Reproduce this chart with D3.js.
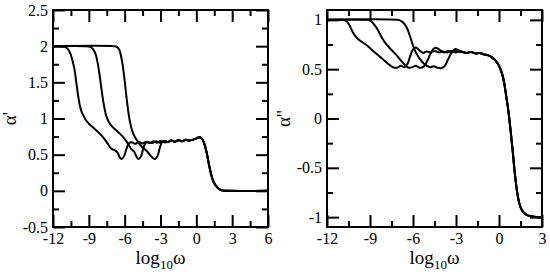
<!DOCTYPE html>
<html>
<head>
<meta charset="utf-8">
<script src="https://cdn.jsdelivr.net/npm/d3@7"></script>
<style>
  @font-face {
    font-family: "ChartSerif";
    src: local("Liberation Serif"), local("LiberationSerif"), local("LiberationSerif-Regular"), local("Times New Roman");
  }
  body { margin: 0; font-family: "Liberation Serif", "ChartSerif", "Times New Roman"; }
  svg text, svg tspan { font-family: "Liberation Serif", "ChartSerif", "Times New Roman" !important; }
</style>
</head>
<body>
<script>
"use strict";

/*** Data: [log10 omega, alpha] */
/** Left panel: alpha' */
const realA = [[-12,2],[-11.3,2],[-11.0,1.99],[-10.75,1.96],[-10.55,1.9],[-10.4,1.82],[-10.2,1.68],[-10.05,1.5],[-9.9,1.32],[-9.75,1.18],[-9.6,1.09],[-9.45,1.04],[-9.25,0.98],[-8.95,0.92],[-8.6,0.87],[-8.2,0.81],[-7.8,0.74],[-7.45,0.66],[-7.1,0.58],[-6.8,0.56],[-6.6,0.53],[-6.4,0.46],[-6.25,0.44],[-6.05,0.48],[-5.85,0.58],[-5.65,0.655],[-5.4,0.67],[-5.1,0.65],[-4.8,0.675],[-4.5,0.655],[-4.2,0.68],[-3.9,0.66],[-3.6,0.685],[-3.3,0.665],[-3.0,0.69],[-2.7,0.67]];
const realB = [[-12,2],[-9.2,2],[-8.9,1.99],[-8.65,1.96],[-8.45,1.9],[-8.3,1.8],[-8.15,1.66],[-8.0,1.48],[-7.85,1.3],[-7.7,1.15],[-7.55,1.04],[-7.35,0.96],[-7.0,0.88],[-6.6,0.82],[-6.1,0.74],[-5.75,0.66],[-5.45,0.58],[-5.2,0.54],[-5.0,0.47],[-4.85,0.44],[-4.65,0.47],[-4.45,0.58],[-4.25,0.66],[-4.0,0.675],[-3.7,0.66],[-3.35,0.685],[-3.05,0.665],[-2.7,0.69]];
const realC = [[-12,2],[-6.9,2],[-6.65,1.99],[-6.45,1.95],[-6.3,1.86],[-6.15,1.72],[-6.0,1.52],[-5.85,1.3],[-5.7,1.1],[-5.55,0.95],[-5.35,0.82],[-5.1,0.73],[-4.85,0.67],[-4.5,0.6],[-4.15,0.55],[-3.9,0.5],[-3.65,0.455],[-3.45,0.44],[-3.25,0.48],[-3.05,0.6],[-2.85,0.68],[-2.6,0.69]];
const realTail = [[-2.4,0.675],[-2.1,0.695],[-1.8,0.68],[-1.5,0.7],[-1.2,0.685],[-0.9,0.705],[-0.6,0.695],[-0.3,0.705],[0.0,0.725],[0.25,0.74],[0.45,0.725],[0.65,0.66],[0.85,0.54],[1.05,0.37],[1.25,0.22],[1.45,0.12],[1.65,0.07],[1.9,0.025],[2.2,0.005],[2.6,0],[6,0]];

/** Right panel: alpha'' */
const imagA = [[-12,1],[-10.9,1],[-10.65,0.99],[-10.45,0.95],[-10.25,0.89],[-10.05,0.84],[-9.8,0.8],[-9.5,0.77],[-9.2,0.74],[-8.9,0.7],[-8.5,0.65],[-8.1,0.6],[-7.7,0.55],[-7.4,0.52],[-7.1,0.515],[-6.85,0.535],[-6.6,0.52],[-6.4,0.55],[-6.2,0.63],[-6.0,0.7],[-5.8,0.72],[-5.55,0.69],[-5.3,0.665],[-5.05,0.68],[-4.8,0.67],[-4.5,0.685],[-4.2,0.67],[-3.9,0.68],[-3.6,0.67],[-3.3,0.685],[-3.0,0.67],[-2.75,0.685]];
const imagB = [[-12,1],[-9.2,1],[-8.95,0.99],[-8.75,0.96],[-8.5,0.91],[-8.25,0.84],[-8.0,0.78],[-7.6,0.71],[-7.2,0.65],[-6.85,0.59],[-6.55,0.54],[-6.3,0.515],[-6.05,0.52],[-5.8,0.535],[-5.55,0.515],[-5.3,0.52],[-5.05,0.57],[-4.8,0.65],[-4.55,0.71],[-4.35,0.715],[-4.1,0.69],[-3.85,0.67],[-3.55,0.685],[-3.3,0.67],[-3.05,0.685],[-2.8,0.675]];
const imagC = [[-12,1],[-7.1,1],[-6.85,0.99],[-6.6,0.96],[-6.4,0.91],[-6.2,0.83],[-6.0,0.74],[-5.8,0.67],[-5.55,0.61],[-5.3,0.565],[-5.05,0.535],[-4.8,0.52],[-4.55,0.53],[-4.3,0.515],[-4.05,0.51],[-3.8,0.53],[-3.55,0.6],[-3.3,0.67],[-3.05,0.705],[-2.8,0.69]];
const imagTail = [[-2.55,0.675],[-2.25,0.665],[-1.95,0.675],[-1.65,0.66],[-1.35,0.665],[-1.05,0.65],[-0.75,0.64],[-0.45,0.615],[-0.2,0.58],[0.0,0.535],[0.2,0.46],[0.35,0.37],[0.5,0.23],[0.65,0.08],[0.8,-0.11],[0.95,-0.32],[1.1,-0.55],[1.25,-0.73],[1.4,-0.85],[1.6,-0.93],[1.9,-0.975],[2.3,-0.994],[2.7,-1.0],[3.0,-1.0]];

/** Ticks */
const leftXMajor = [-12, -9, -6, -3, 0, 3, 6];
const leftXMinor = [-10.5, -7.5, -4.5, -1.5, 1.5, 4.5];
const leftYMajor = [-0.5, 0, 0.5, 1, 1.5, 2, 2.5];
const leftYMinor = [-0.25, 0.25, 0.75, 1.25, 1.75, 2.25];
const rightXMajor = [-12, -9, -6, -3, 0, 3];
const rightXMinor = [-10.5, -7.5, -4.5, -1.5, 1.5];
const rightYMajor = [-1, -0.5, 0, 0.5, 1];
const rightYMinor = [-0.75, -0.25, 0.25, 0.75];

/*** Graph dimensions */
const w = 550;
const h = 276;
const plotTop = 10;
const plotBottom = 227;
const majorLen = 12;
const minorLen = 6;
const serifFont = "Liberation Serif";

const svg = d3.select("body")
    .append("svg")
    .attr("width", w)
    .attr("height", h)
    .attr("font-family", serifFont);

const line = (x, y) => d3.line()
    .x(d => x(d[0]))
    .y(d => y(d[1]))
    .curve(d3.curveCatmullRom.alpha(0.5));

/** Draw one framed panel with inward ticks on all four sides */
function drawPanel(opt) {
    const x = d3.scaleLinear().domain(opt.xDomain).range([opt.left, opt.right]);
    const y = d3.scaleLinear().domain(opt.yDomain).range([plotBottom, plotTop]);
    const g = svg.append("g").attr("font-family", serifFont);

    const addAxis = (axisFn, scale, values, size, tx, ty, labels) => {
        const axis = axisFn(scale)
            .tickValues(values)
            .tickSizeInner(-size)
            .tickSizeOuter(0)
            .tickPadding(axisFn === d3.axisLeft ? 5 : 6)
            .tickFormat(d => String(d)); // plain "-" and no trailing ".0"
        const a = g.append("g")
            .attr("transform", "translate(" + tx + "," + ty + ")")
            .call(axis);
        a.attr("font-family", serifFont).attr("font-size", 16);
        a.select(".domain").remove();
        a.selectAll("line").attr("stroke", "#000").attr("stroke-width", 2);
        if (!labels) a.selectAll("text").remove();
        else a.selectAll("text")
            .attr("font-family", serifFont)
            .attr("font-size", 16)
            .attr("fill", "#000");
    };

    // bottom / top
    addAxis(d3.axisBottom, x, opt.xMajor, majorLen, 0, plotBottom, true);
    addAxis(d3.axisBottom, x, opt.xMinor, minorLen, 0, plotBottom, false);
    addAxis(d3.axisTop, x, opt.xMajor, majorLen, 0, plotTop, false);
    addAxis(d3.axisTop, x, opt.xMinor, minorLen, 0, plotTop, false);
    // left / right
    addAxis(d3.axisLeft, y, opt.yMajor, majorLen, opt.left, 0, true);
    addAxis(d3.axisLeft, y, opt.yMinor, minorLen, opt.left, 0, false);
    addAxis(d3.axisRight, y, opt.yMajor, majorLen, opt.right, 0, false);
    addAxis(d3.axisRight, y, opt.yMinor, minorLen, opt.right, 0, false);

    // curves
    g.selectAll("path.curve")
        .data(opt.series)
        .enter()
        .append("path")
        .attr("class", "curve")
        .attr("d", d => line(x, y)(d))
        .attr("fill", "none")
        .attr("stroke", "#000")
        .attr("stroke-width", 2);

    // frame
    g.append("rect")
        .attr("x", opt.left)
        .attr("y", plotTop)
        .attr("width", opt.right - opt.left)
        .attr("height", plotBottom - plotTop)
        .attr("fill", "none")
        .attr("stroke", "#000")
        .attr("stroke-width", 2);

    // x label: log10 omega
    const xl = g.append("text")
        .attr("x", (opt.left + opt.right) / 2)
        .attr("y", 264)
        .attr("text-anchor", "middle")
        .attr("font-family", serifFont)
        .attr("font-size", 19);
    xl.append("tspan").text("log");
    xl.append("tspan").attr("font-size", 13).attr("dy", 5).text("10");
    xl.append("tspan").attr("dy", -5).text("ω");

    // y label
    g.append("text")
        .attr("transform", "translate(" + opt.yLabelX + "," + (plotTop + plotBottom) / 2 + ") rotate(-90)")
        .attr("text-anchor", "middle")
        .attr("font-family", serifFont)
        .attr("font-size", 19)
        .text(opt.yLabel);
}

drawPanel({
    left: 53, right: 268,
    xDomain: [-12, 6], yDomain: [-0.5, 2.5],
    xMajor: leftXMajor, xMinor: leftXMinor,
    yMajor: leftYMajor, yMinor: leftYMinor,
    series: [realA.concat(realTail), realB.concat(realTail), realC.concat(realTail)],
    yLabel: "α'", yLabelX: 16
});

drawPanel({
    left: 327, right: 542,
    xDomain: [-12, 3], yDomain: [-1.1, 1.1],
    xMajor: rightXMajor, xMinor: rightXMinor,
    yMajor: rightYMajor, yMinor: rightYMinor,
    series: [imagA.concat(imagTail), imagB.concat(imagTail), imagC.concat(imagTail)],
    yLabel: "α''", yLabelX: 290
});
</script>
</body>
</html>
